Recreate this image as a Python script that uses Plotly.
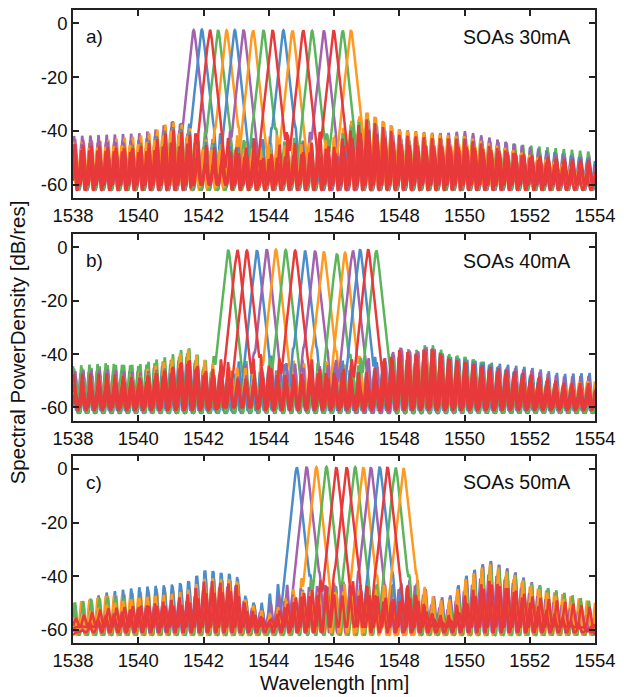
import numpy as np
import plotly.graph_objects as go

# ---------------- data ----------------
WL_MIN, WL_MAX = 1538.0, 1554.0
x_ticks = [1538, 1540, 1542, 1544, 1546, 1548, 1550, 1552, 1554]
y_ticks = [0, -20, -40, -60]

panel_labels = ["a)", "b)", "c)"]
panel_titles = ["SOAs 30mA", "SOAs 40mA", "SOAs 50mA"]

# lasing peak wavelengths [nm]
peaks_a = [1541.70, 1541.95, 1542.20, 1542.45, 1542.71, 1542.96, 1543.23, 1543.52, 1543.84,
           1544.12, 1544.45, 1544.73, 1545.06, 1545.33, 1545.69, 1545.99, 1546.27, 1546.52]
peaks_b = [1542.76, 1543.04, 1543.33, 1543.64, 1543.94, 1544.22, 1544.52, 1544.81, 1545.11,
           1545.42, 1545.69, 1546.09, 1546.34, 1546.58, 1546.80, 1547.05, 1547.30]
peaks_c = [1544.86, 1545.16, 1545.46, 1545.77, 1546.07, 1546.39, 1546.65, 1546.90, 1547.13,
           1547.40, 1547.64, 1547.89, 1548.13]

# peak levels [dB/res]
levels_a = [-2.5, -2.3, -2.4, -2.5, -2.6, -2.5, -2.4, -2.6, -2.5,
            -2.5, -2.6, -2.7, -2.6, -2.8, -2.7, -2.6, -2.7, -2.5]
levels_b = [-1.0, -1.0, -1.2, -1.1, -0.8, -0.8, -1.0, -1.2, -1.2,
            -1.3, -1.6, -2.4, -2.0, -1.2, -0.8, -0.8, -1.2]
levels_c = [0.6, 0.8, 0.7, 0.8, 0.6, 0.6, 0.7, 0.6, 0.6, 0.8, 0.7, 0.5, 0.3]

# trace colours (as seen at each peak)
colors_a = ["purple", "blue", "red", "green", "orange", "blue", "purple", "orange", "green",
            "red", "blue", "orange", "red", "green", "purple", "red", "green", "orange"]
colors_b = ["green", "red", "red", "blue", "purple", "orange", "green", "red", "blue",
            "purple", "orange", "green", "orange", "purple", "blue", "red", "green"]
colors_c = ["blue", "purple", "orange", "green", "red", "red", "green", "orange", "purple",
            "blue", "red", "green", "orange"]

# upper envelope of the side-mode floor [nm], [dB]
env_wl_a = [1538, 1539, 1540, 1540.5, 1541, 1541.5, 1542, 1543, 1544, 1545, 1546, 1546.5,
            1547, 1547.5, 1548, 1549, 1550, 1551, 1552, 1553, 1554]
env_db_a = [-42, -41, -40, -38.5, -35, -37, -42, -43, -43, -43, -42, -36,
            -32, -35, -38, -39.5, -40, -42, -44, -46, -48]
env_wl_b = [1538, 1539, 1540, 1541, 1541.5, 1542, 1542.5, 1545, 1547, 1547.5, 1548, 1548.5,
            1548.9, 1549.5, 1550, 1551, 1552, 1553, 1554]
env_db_b = [-44.5, -42.7, -43, -40, -37, -42, -44, -43, -43, -40, -35, -36.5,
            -34, -38.5, -40, -42, -44, -47, -47]
env_wl_c = [1538, 1539, 1540, 1541, 1541.5, 1542.1, 1542.5, 1543, 1543.3, 1544, 1544.5, 1545,
            1548, 1548.5, 1549, 1549.5, 1550, 1550.5, 1550.8, 1551.5, 1552, 1553, 1554]
env_db_c = [-50, -45.5, -43.7, -43, -42, -37.5, -38, -38, -46, -51, -46, -42,
            -42, -40, -47, -48, -40.5, -35.5, -33.7, -37, -40.5, -44.5, -49]

# per-trace depth below the envelope [dB] at anchor wavelengths
anchor_wl = [1538, 1542, 1546, 1550, 1554]
offs_a = [[0, 2, 6, 9, 4], [5, 0, 3, 7, 1], [5, 11, 4, 3, 9], [9, 4, 7, 3, 0], [3, 1, 9, 5, 8],
          [7, 6, 2, 1, 3], [1, 9, 5, 8, 2], [6, 3, 0, 4, 7], [10, 5, 8, 2, 9], [7, 10, 7, 9, 3],
          [8, 2, 6, 10, 5], [2, 10, 3, 1, 7], [9, 3, 12, 7, 5], [11, 6, 2, 7, 10], [3, 4, 8, 0, 5],
          [3, 11, 8, 6, 4], [7, 3, 10, 6, 4], [5, 5, 1, 2, 8]]
offs_b = [[2, 0, 7, 4, 9], [3, 9, 6, 11, 5], [11, 6, 4, 3, 9], [4, 9, 5, 2, 0], [10, 2, 8, 6, 4],
          [6, 5, 0, 9, 3], [1, 8, 4, 1, 7], [10, 4, 12, 8, 5], [3, 4, 2, 10, 8], [9, 7, 6, 3, 1],
          [5, 10, 3, 7, 5], [0, 3, 10, 1, 9], [8, 0, 5, 8, 3], [2, 6, 1, 4, 10], [11, 9, 7, 2, 6],
          [7, 5, 7, 3, 4], [6, 5, 9, 6, 7]]
offs_c = [[1, 0, 6, 3, 8], [6, 4, 2, 0, 3], [0, 8, 4, 6, 1], [8, 2, 9, 1, 5], [6, 9, 3, 11, 3],
          [12, 4, 8, 7, 12], [5, 9, 3, 2, 6], [2, 3, 8, 9, 2], [10, 7, 1, 5, 7], [4, 0, 7, 0, 4],
          [10, 8, 5, 10, 13], [0, 10, 6, 3, 1], [6, 3, 4, 1, 5]]
floor_a = [-61, -60, -62, -59, -61, -60, -62, -61, -59, -60, -61, -62, -60, -59, -61, -60, -62, -61]
floor_b = [-62, -61, -60, -62, -61, -59, -62, -60, -61, -62, -60, -61, -59, -62, -61, -60, -62]
floor_c = [-61, -60, -62, -61, -59, -61, -60, -62, -61, -60, -59, -62, -61]
# small shifts of each trace's side-mode comb [nm]
shift_a = [0.00, 0.03, -0.03, 0.01, 0.05, -0.02, 0.03, 0.00, -0.05, 0.02, 0.04, -0.03, 0.05, 0.00, -0.02, 0.03, 0.01, -0.04]
shift_b = [0.03, 0.00, -0.03, 0.05, 0.01, -0.02, 0.00, 0.04, -0.05, 0.02, 0.05, -0.03, 0.00, 0.03, -0.02, 0.01, 0.04]
shift_c = [0.00, 0.03, -0.03, 0.01, 0.05, -0.02, 0.00, 0.04, -0.05, 0.02, -0.03, 0.03, 0.00]

MODE_PERIOD = 0.25   # side-mode spacing [nm]
MODE_PHASE = 1538.03

palette = {"red": "#E8393B", "blue": "#4B8DC8", "green": "#5CB55A",
           "purple": "#A262AE", "orange": "#FF991F"}

panels = [
    (peaks_a, levels_a, colors_a, env_wl_a, env_db_a, offs_a, floor_a, shift_a),
    (peaks_b, levels_b, colors_b, env_wl_b, env_db_b, offs_b, floor_b, shift_b),
    (peaks_c, levels_c, colors_c, env_wl_c, env_db_c, offs_c, floor_c, shift_c),
]

# ---------------- build figure ----------------
wl = np.arange(WL_MIN, WL_MAX + 1e-9, 0.01)
SLOPE = 120.0   # dB/nm flank of the lasing line
TOPW = 0.035

fig = go.Figure()
domains = [[0.703, 1.0], [0.351, 0.646], [0.0, 0.296]]

for p, (pk, lv, col, ewl, edb, offs, flr, sh) in enumerate(panels):
    env = np.interp(wl, ewl, edb)
    sfx = "" if p == 0 else str(p + 1)
    order = [i for i in range(len(pk)) if col[i] != "red"] + [i for i in range(len(pk)) if col[i] == "red"]
    for i in order:
        upper = env - np.interp(wl, anchor_wl, offs[i])
        upper = np.maximum(upper, -35.0 - 14.0 * np.abs(wl - pk[i]))
        comb = ((1 + np.cos(2 * np.pi * (wl - MODE_PHASE - sh[i]) / MODE_PERIOD)) / 2) ** 1.5
        floor_db = flr[i] + (upper - flr[i]) * comb
        d = wl - pk[i]
        line_db = lv[i] - SLOPE * (np.sqrt(d * d + TOPW ** 2) - TOPW)
        total = 10 * np.log10(10 ** (floor_db / 10) + 10 ** (line_db / 10))
        fig.add_trace(go.Scatter(x=wl, y=total, mode="lines",
                                 line=dict(color=palette[col[i]], width=2.5),
                                 xaxis="x" + sfx, yaxis="y" + sfx,
                                 showlegend=False, hoverinfo="skip"))

FAM = "Liberation Sans, Arial, sans-serif"
font = dict(family=FAM, size=19, color="#111")
axis_common = dict(showline=True, linecolor="#222", linewidth=1.5, mirror="ticks",
                   ticks="inside", ticklen=6, tickwidth=1.5, tickcolor="#222",
                   showgrid=False, zeroline=False, tickfont=dict(family=FAM, size=18.5, color="#111"))

layout = dict(width=624, height=697, margin=dict(l=73, r=23, t=8, b=54),
              paper_bgcolor="white", plot_bgcolor="white", showlegend=False)
for p in range(3):
    sfx = "" if p == 0 else str(p + 1)
    layout["xaxis" + sfx] = dict(domain=[0, 1], anchor="y" + sfx, range=[WL_MIN, WL_MAX],
                                 tickvals=x_ticks, ticktext=[str(t) for t in x_ticks], **axis_common)
    layout["yaxis" + sfx] = dict(domain=domains[p], anchor="x" + sfx, range=[-65, 5],
                                 tickvals=y_ticks, ticktext=[str(t) for t in y_ticks], **axis_common)
fig.update_layout(**layout)

for p in range(3):
    sfx = "" if p == 0 else str(p + 1)
    fig.add_annotation(x=1538.35, y=-5, xref="x" + sfx, yref="y" + sfx, text=panel_labels[p],
                       showarrow=False, xanchor="left", yanchor="middle", font=font)
    fig.add_annotation(x=1553.3, y=-5, xref="x" + sfx, yref="y" + sfx, text=panel_titles[p],
                       showarrow=False, xanchor="right", yanchor="middle", font=dict(font, size=19.5))

fig.add_annotation(x=0, y=0.475, xref="paper", yref="paper", xshift=-56,
                   text="Spectral PowerDensity [dB/res]", textangle=-90, showarrow=False,
                   xanchor="center", yanchor="middle", font=dict(font, size=20.5))
fig.add_annotation(x=0.5, y=0, xref="paper", yref="paper", yshift=-40,
                   text="Wavelength [nm]", showarrow=False,
                   xanchor="center", yanchor="middle", font=dict(font, size=20))

fig.write_html("out.html")
